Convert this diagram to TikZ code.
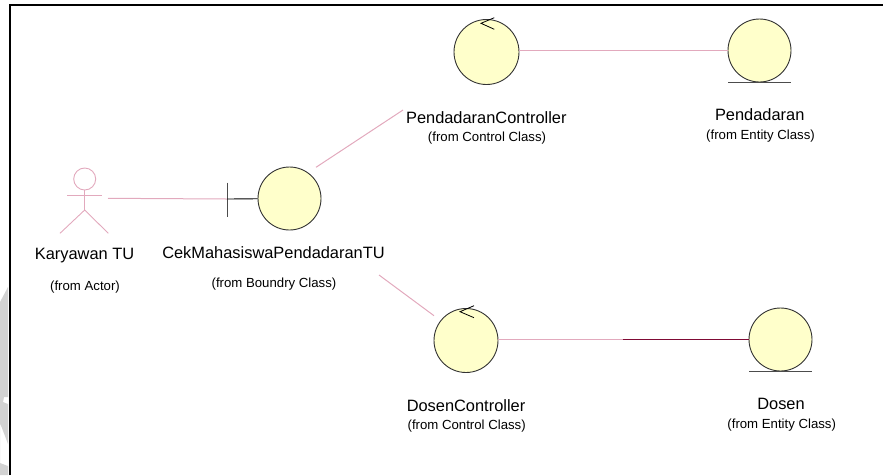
\documentclass[tikz,border=0pt]{standalone}
\usepackage{fontspec}
\setmainfont{Liberation Sans}
\usetikzlibrary{calc}
\definecolor{assoc}{HTML}{E2A9BD}
\definecolor{assocdark}{HTML}{7F0A35}
\definecolor{robust}{HTML}{FFFFCB}
\definecolor{wmark}{HTML}{D2D2D2}
\tikzset{%
  lifeball/.style={draw=black!80,fill=robust,circle,inner sep=0pt,
    minimum size=#1,line width=0.9pt},
  nameof/.style={inner sep=0pt,font=\fontsize{16.4}{18}\selectfont},
  fromof/.style={inner sep=0pt,font=\fontsize{13.2}{15}\selectfont},
  assocline/.style={assoc,line width=1pt},
  stickman/.style={assoc,line width=0.9pt}}
\begin{document}
\begin{tikzpicture}[x=1pt,y=-1pt]
\useasboundingbox (0,0) rectangle (883,475);
% watermark at the left edge
\fill[wmark] (0,302) -- (8,287) -- (8,397) -- (4,397) -- (3,402) -- (8,404)
  -- (8,444) -- (5,436) -- (0,423) -- (0,463) -- (8,466) -- (8,475)
  -- (0,475) -- cycle;
\draw[line width=2pt] (9.5,475) -- (9.5,4.5) -- (883,4.5);
% nodes
\node[lifeball=63pt] (cek) at (289.5,198.5) {};
\node[lifeball=65pt] (pctl) at (486.5,52) {};
\node[lifeball=63pt] (pent) at (759.5,50.5) {};
\node[lifeball=64pt] (dctl) at (466,340.5) {};
\node[lifeball=63pt] (dent) at (780.5,339.5) {};
\node[circle,draw=assoc,line width=0.9pt,minimum size=22pt,inner sep=0pt]
  (head) at (84.7,179) {};
% labels
\node[nameof] (lkar) at (84.5,256) {Karyawan TU};
\node[fromof] (fkar) at (85,287) {(from Actor)};
\node[nameof] (lcek) at (273.5,253) {CekMahasiswaPendadaranTU};
\node[fromof] (fcek) at (274,284) {(from Boundry Class)};
\node[nameof] (lpctl) at (486.3,118) {PendadaranController};
\node[fromof] (fpctl) at (487,138) {(from Control Class)};
\node[nameof] (lpent) at (759.7,115) {Pendadaran};
\node[fromof] (fpent) at (760.5,136) {(from Entity Class)};
\node[nameof] (ldctl) at (466,406) {DosenController};
\node[fromof] (fdctl) at (466.7,426) {(from Control Class)};
\node[nameof] (ldent) at (781,404) {Dosen};
\node[fromof] (fdent) at (781.7,425) {(from Entity Class)};
% actor
\coordinate (hip) at (84.7,210);
\draw[stickman] (head) -- (hip);
\draw[stickman] (67,195.3) -- (101.5,195.3);
\draw[stickman] (60,233.3) -- (hip) -- (108.3,233.3);
% boundary bar
\coordinate (bar) at (227,199);
\draw[black!70,line width=0.9pt] (227,182.7) -- (227,216.7);
\draw[line width=0.9pt] (bar) -- (cek);
% entity ground lines
\draw[black!70,line width=0.9pt] ($(pent.south)+(-31.5,0)$) -- +(63,0);
\draw[black!70,line width=0.9pt] ($(dent.south)+(-31.5,0)$) -- +(63,0);
% control arrow heads
\draw[line width=0.8pt] (494.3,17.7) -- (481,23.3) -- (494.3,29.3);
\draw[line width=0.8pt] (474,305.7) -- (460,311.7) -- (474,317.7);
% connectors
\coordinate (handr) at (108,198.3);
\coordinate (cekup) at (316,167.3);
\coordinate (pctlin) at (403,110);
\coordinate (cekdn) at (379,275);
\coordinate (dctlin) at (434,315.7);
\coordinate (dmid) at (622.5,339.5);
\draw[assocline] (handr) -- (bar);
\draw[assocline] (cekup) -- (pctlin);
\draw[assocline] (cekdn) -- (dctlin);
\draw[assocline] (pctl.east |- pent) -- (pent);
\draw[assocline] (dctl.east |- dent) -- (dmid);
\draw[assocdark,line width=0.9pt] (dmid) -- (dent);
\end{tikzpicture}
\end{document}
